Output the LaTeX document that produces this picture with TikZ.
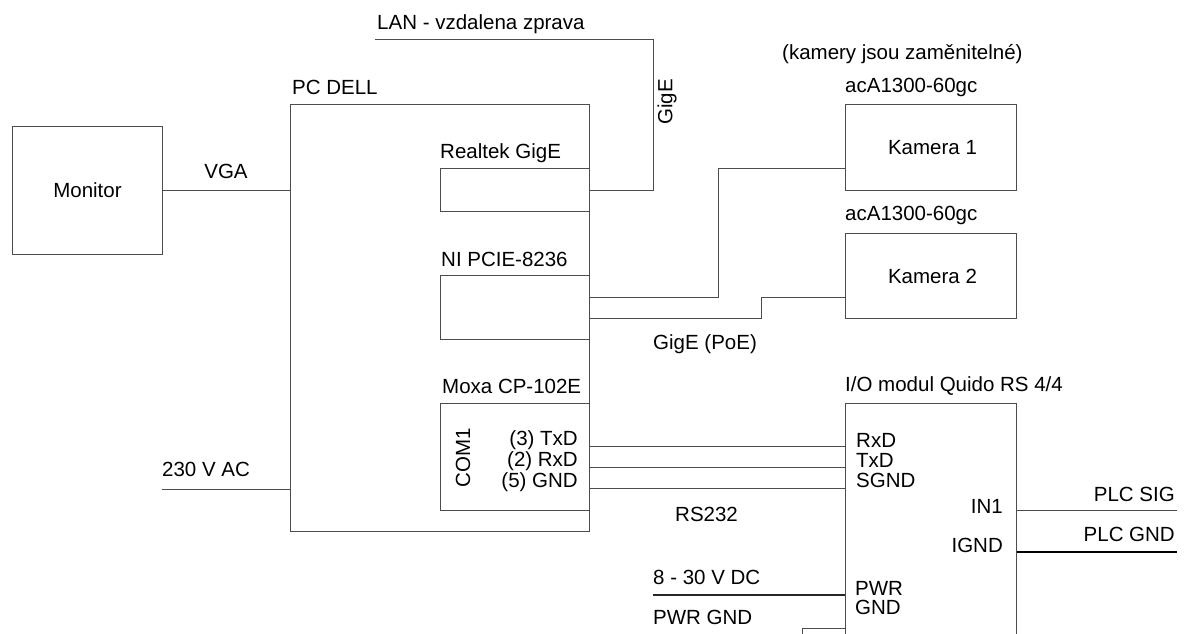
\documentclass[tikz,border=0pt]{standalone}
\usepackage{fontspec}
\setmainfont{Liberation Sans}
\begin{document}
\begin{tikzpicture}[x=1pt,y=-1pt,
  font=\fontsize{20.5}{24}\selectfont,
  box/.style={draw=black!70, line width=1pt, inner sep=0pt, anchor=north west},
  wire/.style={draw=black!70, line width=1pt},
  thickwire/.style={draw=black, line width=2pt},
  lbl/.style={inner sep=0pt, text=black}]
\useasboundingbox (0,0) rectangle (1187,634);
\clip (0,0) rectangle (1187,634);

% boxes
\node[box, minimum width=150pt, minimum height=128pt] (mon) at (12,126) {\raisebox{-3.5pt}{Monitor}};
\node[box, minimum width=299pt, minimum height=427pt] (pc) at (290,104) {};
\node[box, minimum width=149pt, minimum height=43pt] (realtek) at (440,168) {};
\node[box, minimum width=149pt, minimum height=64pt] (ni) at (440,275) {};
\node[box, minimum width=149pt, minimum height=107pt] (moxa) at (440,403) {};
\node[box, minimum width=171pt, minimum height=86pt] (cam1) at (845,104) {\hspace{3pt}\raisebox{-4pt}{Kamera 1}};
\node[box, minimum width=171pt, minimum height=85pt] (cam2) at (845,233) {\hspace{3pt}\raisebox{-3.5pt}{Kamera 2}};
\node[box, minimum width=171pt, minimum height=257pt] (quido) at (845,403) {};

% free ends
\coordinate (ac) at (162,489);
\coordinate (lan) at (375,40);
\coordinate (dc) at (653,595);
\coordinate (pg) at (802,640);
\coordinate (sig) at (1177,510);
\coordinate (plcgnd) at (1177,552);

% connectors
\draw[wire] (mon.east) -- (mon.east -| pc.west);
\draw[wire] (ac) -- (ac -| pc.west);
\draw[wire] (lan) -- ++(278,0) |- (realtek.east);
\draw[wire] ([yshift=10pt]ni.east) -- ++(128,0) |- ([yshift=-21pt]cam1.west);
\draw[wire] ([yshift=-11pt]ni.east) -- ++(171,0) |- ([yshift=-21.5pt]cam2.west);
\path ([yshift=10.5pt]moxa.east) coordinate (s1)
      ([yshift=-10.5pt]moxa.east) coordinate (s2)
      ([yshift=-31.5pt]moxa.east) coordinate (s3);
\draw[wire] (s1) -- (s1 -| quido.west);
\draw[wire] (s2) -- (s2 -| quido.west);
\draw[wire] (s3) -- (s3 -| quido.west);
\draw[wire, line width=1.4pt, draw=black!85] (dc) -- (dc -| quido.west);
\draw[wire] (pg) |- ([yshift=-96.5pt]quido.west);
\draw[wire] (sig -| quido.east) -- (sig);
\draw[thickwire] (plcgnd -| quido.east) -- (plcgnd);

% labels
\node[lbl, anchor=west] (tlan) at (377,24) {LAN - vzdalena zprava};
\node[lbl, anchor=west] (tpc) at (292,87.5) {PC DELL};
\node[lbl, anchor=west] (treal) at (440,153) {Realtek GigE};
\node[lbl, rotate=90] (tgige) at (667,102) {GigE};
\node[lbl] (tvga) at (226,171.5) {VGA};
\node[lbl, anchor=west] (tac) at (162,469) {230 V AC};
\node[lbl, anchor=west] (tni) at (441,259) {NI PCIE-8236};
\node[lbl, anchor=west] (tpoe) at (653,344) {GigE (PoE)};
\node[lbl, anchor=west] (tmoxa) at (442,386) {Moxa CP-102E};
\node[lbl, rotate=90] (tcom) at (463,458) {COM1};
\node[lbl, anchor=east] (ttx) at (578,440.5) {(3) TxD};
\node[lbl, anchor=east] (trx) at (578,461) {(2) RxD};
\node[lbl, anchor=east] (tgnd) at (578,482) {(5) GND};
\node[lbl, anchor=west] (trs) at (675,514) {RS232};
\node[lbl, anchor=west] (tkam) at (782,54) {(kamery jsou zaměnitelné)};
\node[lbl, anchor=west] (taca) at (845,87.5) {acA1300-60gc};
\node[lbl, anchor=west] (tacb) at (845,215) {acA1300-60gc};
\node[lbl, anchor=west] (tquido) at (845,386) {I/O modul Quido RS 4/4};
\node[lbl, anchor=west] (qrx) at (856,440) {RxD};
\node[lbl, anchor=west] (qtx) at (856,460) {TxD};
\node[lbl, anchor=west] (qsg) at (856,480) {SGND};
\node[lbl, anchor=east] (qin) at (1003,506) {IN1};
\node[lbl, anchor=east] (qig) at (1003,545) {IGND};
\node[lbl, anchor=west] (qpwr) at (855,588) {PWR};
\node[lbl, anchor=west] (qgnd) at (855,607) {GND};
\node[lbl, anchor=east] (tsig) at (1175,494) {PLC SIG};
\node[lbl, anchor=east] (tplcg) at (1175,534) {PLC GND};
\node[lbl, anchor=west] (tdc) at (653,577) {8 - 30 V DC};
\node[lbl, anchor=west] (tpg) at (653,617) {PWR GND};
\end{tikzpicture}
\end{document}
